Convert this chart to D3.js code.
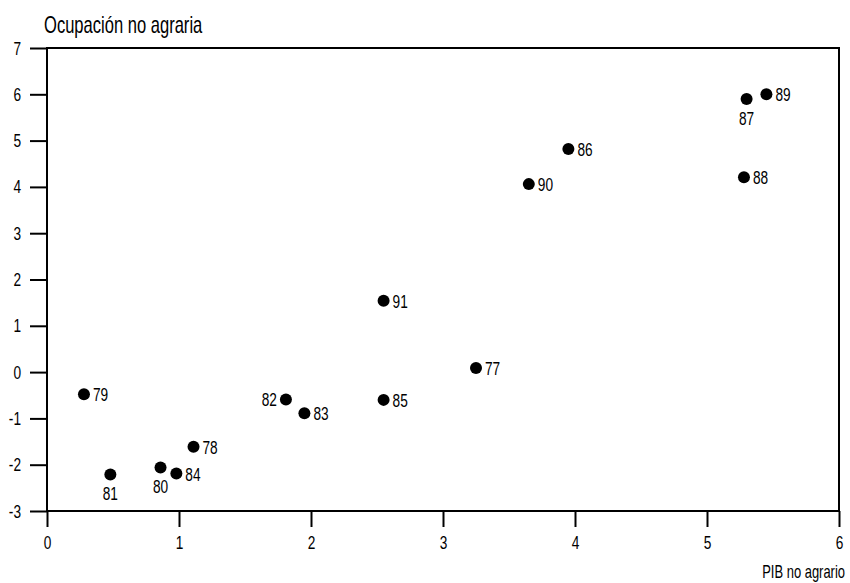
<!DOCTYPE html>
<html>
<head>
<meta charset="utf-8">
<script src="https://cdn.jsdelivr.net/npm/d3@7"></script>
<style>
  body { margin: 0; background: #fff; }
  text { font-family: "Liberation Sans", Arial, sans-serif; fill: #000; }
</style>
</head>
<body>
<svg id="chart" width="850" height="583"></svg>
<script>
// años (etiquetas de los puntos)
const years = ["77", "78", "79", "80", "81", "82", "83", "84", "85", "86", "87", "88", "89", "90", "91"];
// PIB no agrario (eje X)
const pib = [3.25, 1.11, 0.28, 0.86, 0.48, 1.81, 1.95, 0.98, 2.55, 3.95, 5.30, 5.28, 5.45, 3.65, 2.55];
// Ocupación no agraria (eje Y)
const ocupacion = [0.09, -1.61, -0.48, -2.06, -2.21, -0.59, -0.89, -2.19, -0.60, 4.82, 5.90, 4.21, 6.00, 4.06, 1.54];
// posición de la etiqueta respecto al punto
const labelPos = ["right", "right", "right", "below", "below", "left", "right", "right", "right", "right", "below", "right", "right", "right", "right"];

const xTicks = [0, 1, 2, 3, 4, 5, 6];
const yTicks = [-3, -2, -1, 0, 1, 2, 3, 4, 5, 6, 7];

const margin = { top: 48, right: 11, bottom: 72, left: 47 };
const W = 850, H = 583;
// letra estrecha: escalado horizontal
const sx = 0.72;
const narrow = `scale(${sx},1)`;

const svg = d3.select("#chart");

const x = d3.scaleLinear().domain([0, 6]).range([margin.left, W - margin.right]);
const y = d3.scaleLinear().domain([-3, 7]).range([H - margin.bottom, margin.top]);

// Eje Y
const gy = svg.append("g")
  .attr("transform", `translate(${margin.left},0)`)
  .call(d3.axisLeft(y).tickValues(yTicks).tickSize(17).tickFormat(d => String(d)));
gy.select(".domain").remove();
gy.selectAll(".tick line").attr("stroke", "#000").attr("stroke-width", 2);
gy.selectAll(".tick text")
  .attr("x", -26 / sx)
  .attr("transform", narrow)
  .style("font-size", "19px")
  .attr("fill", "#000");

// Eje X
const gx = svg.append("g")
  .attr("transform", `translate(0,${H - margin.bottom})`)
  .call(d3.axisBottom(x).tickValues(xTicks).tickSize(16).tickPadding(9).tickFormat(d => String(d)));
gx.select(".domain").remove();
gx.selectAll(".tick line").attr("stroke", "#000").attr("stroke-width", 2);
gx.selectAll(".tick text")
  .attr("transform", narrow)
  .style("font-size", "19px")
  .attr("fill", "#000");

// Marco
svg.append("rect")
  .attr("x", x(0))
  .attr("y", y(7))
  .attr("width", x(6) - x(0))
  .attr("height", y(-3) - y(7))
  .attr("fill", "none")
  .attr("stroke", "#000")
  .attr("stroke-width", 2);

// Títulos
svg.append("g")
  .attr("transform", "translate(44,33)")
  .append("text")
  .attr("transform", narrow)
  .style("font-size", "23px")
  .text("Ocupación no agraria");

svg.append("g")
  .attr("transform", "translate(845,578)")
  .append("text")
  .attr("transform", narrow)
  .attr("text-anchor", "end")
  .style("font-size", "18px")
  .text("PIB no agrario");

// Puntos
const data = years.map((yr, i) => ({ yr, px: pib[i], oc: ocupacion[i], pos: labelPos[i] }));

svg.append("g")
  .selectAll("circle")
  .data(data)
  .join("circle")
  .attr("cx", d => x(d.px))
  .attr("cy", d => y(d.oc))
  .attr("r", 6)
  .attr("fill", "#000");

svg.append("g")
  .selectAll("g")
  .data(data)
  .join("g")
  .attr("transform", d => `translate(${x(d.px)},${y(d.oc)})`)
  .append("text")
  .attr("transform", narrow)
  .attr("x", d => (d.pos === "right" ? 9 : d.pos === "left" ? -9 : 0) / sx)
  .attr("y", d => d.pos === "below" ? 26 : 7)
  .attr("text-anchor", d => d.pos === "right" ? "start" : d.pos === "left" ? "end" : "middle")
  .style("font-size", "19px")
  .text(d => d.yr);
</script>
</body>
</html>
